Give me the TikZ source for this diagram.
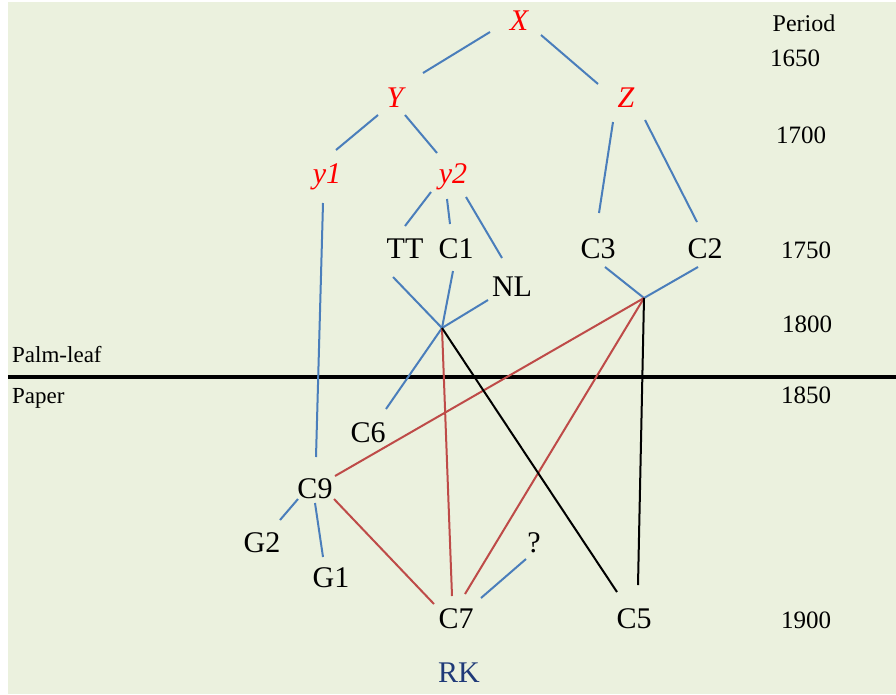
\documentclass[tikz,border=0pt]{standalone}
\usepackage{fontspec}
\setmainfont{Liberation Serif}
\definecolor{bg}{HTML}{EBF1DE}
\definecolor{lblue}{HTML}{4A7EBB}
\definecolor{lred}{HTML}{BE4B48}
\definecolor{rkblue}{HTML}{1F3A78}
\begin{document}
\begin{tikzpicture}[x=1pt,y=-1pt,
 lab/.style={anchor=base,inner sep=0pt,font=\fontsize{30}{36}\selectfont},
 rlab/.style={anchor=base,inner sep=0pt,text=red,font=\fontsize{30}{36}\selectfont\itshape},
 yr/.style={anchor=base,inner sep=0pt,font=\fontsize{25}{30}\selectfont},
 sm/.style={anchor=base west,inner sep=0pt,font=\fontsize{23}{28}\selectfont},
 bl/.style={draw=lblue,line width=2pt},
 rd/.style={draw=lred,line width=2pt},
 bk/.style={draw=black,line width=2pt}]
\useasboundingbox (0,0) rectangle (896,694);
\fill[white] (0,0) rectangle (896,694);
\fill[bg] (8,2) rectangle (896,694);

% labels
\node[rlab] (X) at (519,30) {X};
\node[rlab] (Y) at (395,107) {Y};
\node[rlab] (Z) at (626,107) {Z};
\node[rlab] (y1) at (327,183) {y1};
\node[rlab] (y2) at (453,183) {y2};
\node[lab] (TT) at (405,258) {TT};
\node[lab] (C1) at (456,258) {C1};
\node[lab] (C3) at (598,258) {C3};
\node[lab] (C2) at (705,258) {C2};
\node[lab] (NL) at (512,296) {NL};
\node[lab] (C6) at (368,442) {C6};
\node[lab] (C9) at (315,498) {C9};
\node[lab] (G2) at (262,552) {G2};
\node[lab] (G1) at (331,587) {G1};
\node[lab] (Q) at (534,552) {?};
\node[lab] (C7) at (456,628) {C7};
\node[lab] (C5) at (634,628) {C5};
\node[lab,text=rkblue] (RK) at (459,682) {RK};

\node[anchor=base,inner sep=0pt,font=\fontsize{24}{28}\selectfont] (period) at (804,31) {Period};
\node[yr] (t1650) at (795,66) {1650};
\node[yr] (t1700) at (801,143) {1700};
\node[yr] (t1750) at (806,258) {1750};
\node[yr] (t1800) at (807,332) {1800};
\node[yr] (t1850) at (806,403) {1850};
\node[yr] (t1900) at (806,628) {1900};
\node[sm] (palm) at (12,362) {Palm-leaf};
\node[sm] (paper) at (12,403) {Paper};

% connector end points
\coordinate (X-l) at (490,32);  \coordinate (Y-t) at (423,73);
\coordinate (X-r) at (541,35);  \coordinate (Z-t) at (598,84);
\coordinate (Y-l) at (378,115); \coordinate (y1-t) at (336,150);
\coordinate (Y-r) at (405,115); \coordinate (y2-t) at (437,153);
\coordinate (Z-l) at (613,122); \coordinate (C3-t) at (599,213);
\coordinate (Z-r) at (645,120); \coordinate (C2-t) at (697,222);
\coordinate (y1-b) at (323,203); \coordinate (C9-t) at (316,457);
\coordinate (y2-l) at (431,192); \coordinate (TT-t) at (405,226);
\coordinate (y2-m) at (447,199); \coordinate (C1-t) at (450,224);
\coordinate (y2-r) at (466,197); \coordinate (NL-t) at (502,258);
\coordinate (TT-b) at (393,277);
\coordinate (C1-b) at (453,271);
\coordinate (NL-b) at (488,300);
\coordinate (j1) at (442,328);
\coordinate (C6-t) at (386,409);
\coordinate (C3-b) at (605,267);
\coordinate (C2-b) at (698,267);
\coordinate (j2) at (644,298);
\coordinate (C9-l) at (298,499); \coordinate (G2-t) at (280,520);
\coordinate (C9-b) at (315,503); \coordinate (G1-t) at (323,557);
\coordinate (Q-b) at (526,559);  \coordinate (C7-r) at (481,598);
\coordinate (C9-r) at (335,476);
\coordinate (C9-br) at (334,499); \coordinate (C7-l) at (434,604);
\coordinate (C7-t) at (452,596);
\coordinate (C7-tr) at (465,594);
\coordinate (C5-l) at (617,592);
\coordinate (C5-t) at (638,585);
\coordinate (hl-l) at (8,377);
\coordinate (hl-r) at (896,377);

% boundary line
\draw[line width=3.5pt] (hl-l) -- (hl-r);

% blue
\draw[bl] (X-l) -- (Y-t);
\draw[bl] (X-r) -- (Z-t);
\draw[bl] (Y-l) -- (y1-t);
\draw[bl] (Y-r) -- (y2-t);
\draw[bl] (Z-l) -- (C3-t);
\draw[bl] (Z-r) -- (C2-t);
\draw[bl] (y1-b) -- (C9-t);
\draw[bl] (y2-l) -- (TT-t);
\draw[bl] (y2-m) -- (C1-t);
\draw[bl] (y2-r) -- (NL-t);
\draw[bl] (TT-b) -- (j1);
\draw[bl] (C1-b) -- (j1);
\draw[bl] (NL-b) -- (j1);
\draw[bl] (j1) -- (C6-t);
\draw[bl] (C3-b) -- (j2);
\draw[bl] (C2-b) -- (j2);
\draw[bl] (C9-l) -- (G2-t);
\draw[bl] (C9-b) -- (G1-t);
\draw[bl] (Q-b) -- (C7-r);

% red
\draw[rd] (j2) -- (C9-r);
\draw[rd] (j1) -- (C7-t);
\draw[rd] (j2) -- (C7-tr);
\draw[rd] (C9-br) -- (C7-l);

% black
\draw[bk] (j1) -- (C5-l);
\draw[bk] (j2) -- (C5-t);
\end{tikzpicture}
\end{document}
